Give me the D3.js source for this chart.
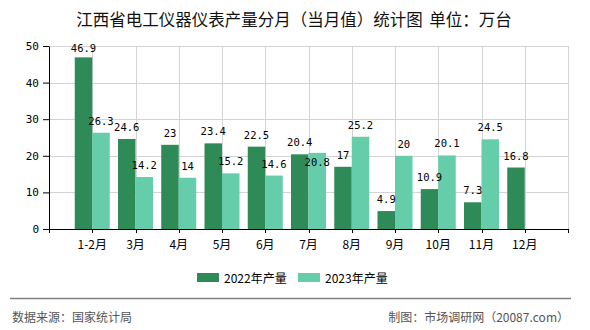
<!DOCTYPE html>
<html>
<head>
<meta charset="utf-8">
<script src="https://cdn.jsdelivr.net/npm/d3@7"></script>
<style>
  body { margin: 0; background: #fff; }
  svg { display: block; }
</style>
</head>
<body>
<svg id="chart" width="590" height="330"></svg>
<script>
// Monthly output of electrical instruments and meters, Jiangxi (10k units)
const categories = ["1-2月", "3月", "4月", "5月", "6月", "7月", "8月", "9月", "10月", "11月", "12月"];
const seriesNames = ["2022年产量", "2023年产量"];
const values2022 = [46.9, 24.6, 23, 23.4, 22.5, 20.4, 17, 4.9, 10.9, 7.3, 16.8];
const values2023 = [26.3, 14.2, 14, 15.2, 14.6, 20.8, 25.2, 20, 20.1, 24.5, null];
const yTicks = [0, 10, 20, 30, 40, 50];
const colors = ["#2e8b57", "#66cdaa"];

const titleText = "江西省电工仪器仪表产量分月（当月值）统计图 单位：万台";
const sourceText = "数据来源：国家统计局";
const creditText = "制图：市场调研网（20087.com）";

const svg = d3.select("#chart");
const W = 590;
const margin = { left: 49, right: 22, top: 46, bottom: 101 };
const plotW = W - margin.left - margin.right;
const plotH = 330 - margin.top - margin.bottom;

const cjk = "'Noto Sans CJK SC', 'Noto Sans', sans-serif";
const mono = "'DejaVu Sans Mono', 'Liberation Mono', monospace";

// Title
svg.append("text")
  .attr("x", 294).attr("y", 19)
  .attr("text-anchor", "middle")
  .attr("dominant-baseline", "central")
  .style("font-family", cjk).style("font-size", "16.5px")
  .style("word-spacing", "3px")
  .attr("fill", "#111")
  .text(titleText);

const g = svg.append("g").attr("transform", `translate(${margin.left},${margin.top})`);

// Category slots: one empty slot at each end of the axis
const step = plotW / (categories.length + 1);
const x = d3.scalePoint().domain(categories).range([step, plotW - step]);
const inner = d3.scaleBand().domain(seriesNames).range([-17.5, 17.5]).paddingInner(0);
const y = d3.scaleLinear().domain([0, 50]).range([plotH, 0]);

// Grid
const grid = g.append("g").attr("stroke", "#d3d3d3").attr("stroke-width", 1);
yTicks.filter(t => t > 0).forEach(t => {
  grid.append("line").attr("x1", 0).attr("x2", plotW)
    .attr("y1", Math.round(y(t)) + 0.5).attr("y2", Math.round(y(t)) + 0.5);
});
const vLines = categories.map(c => x(c)).concat([plotW]);
vLines.forEach(v => {
  grid.append("line").attr("x1", Math.round(v) + 0.5).attr("x2", Math.round(v) + 0.5)
    .attr("y1", 0).attr("y2", plotH);
});

// Bars
const seriesData = [values2022, values2023];
seriesData.forEach((vals, si) => {
  g.append("g").selectAll("rect")
    .data(categories.map((c, i) => ({ c, v: vals[i] })).filter(d => d.v != null))
    .join("rect")
    .attr("x", d => x(d.c) + inner(seriesNames[si]))
    .attr("width", inner.bandwidth())
    .attr("y", d => y(d.v))
    .attr("height", d => plotH - y(d.v))
    .attr("fill", colors[si]);
});

// Value labels, with a simple shift for labels that would collide
const labelFont = 10.5;
const minBaseline = 6;
const labels = [];
categories.forEach((c, i) => {
  const placed = [];
  seriesData.forEach((vals, si) => {
    const v = vals[i];
    if (v == null) return;
    const cx = x(c) + inner(seriesNames[si]) + inner.bandwidth() / 2;
    let by = Math.max(y(v) - 8, minBaseline);
    const txt = String(v);
    const w = txt.length * labelFont * 0.6;
    placed.forEach(p => {
      const overlapX = Math.abs(p.cx - cx) < (p.w + w) / 2;
      const overlapY = Math.abs(p.by - by) < labelFont + 2;
      if (overlapX && overlapY) by = p.by + 20;
    });
    const item = { cx, by, w, txt };
    placed.push(item);
    labels.push(item);
  });
});
g.append("g").selectAll("text").data(labels).join("text")
  .attr("x", d => d.cx).attr("y", d => d.by)
  .attr("text-anchor", "middle")
  .style("font-family", mono).style("font-size", labelFont + "px")
  .attr("fill", "#000")
  .text(d => d.txt);

// Y axis
const yAxis = g.append("g")
  .call(d3.axisLeft(y).tickValues(yTicks).tickSize(6).tickSizeOuter(0).tickPadding(4));
yAxis.select(".domain").attr("stroke", "#000");
yAxis.selectAll(".tick line").attr("stroke", "#000");
yAxis.selectAll(".tick text")
  .style("font-family", mono).style("font-size", "11px").attr("fill", "#000");

// X axis
const xAxis = g.append("g").attr("transform", `translate(0,${plotH})`);
xAxis.append("line").attr("x1", 0).attr("x2", plotW).attr("y1", 0.5).attr("y2", 0.5)
  .attr("stroke", "#000");
vLines.concat([0]).forEach(v => {
  xAxis.append("line").attr("x1", Math.round(v) + 0.5).attr("x2", Math.round(v) + 0.5)
    .attr("y1", 0).attr("y2", 4).attr("stroke", "#000");
});
xAxis.selectAll("text.cat").data(categories).join("text")
  .attr("class", "cat")
  .attr("x", d => x(d)).attr("y", 14)
  .attr("text-anchor", "middle")
  .attr("dominant-baseline", "central")
  .style("font-family", cjk).style("font-size", "12px")
  .attr("fill", "#000")
  .text(d => d);

// Legend
const legendItems = [
  { name: seriesNames[0], color: colors[0], x: 197 },
  { name: seriesNames[1], color: colors[1], x: 298 }
];
const lg = svg.append("g");
legendItems.forEach(it => {
  lg.append("rect").attr("x", it.x).attr("y", 273).attr("width", 22).attr("height", 9)
    .attr("fill", it.color);
  lg.append("text").attr("x", it.x + 27).attr("y", 277.5)
    .attr("dominant-baseline", "central")
    .style("font-family", cjk).style("font-size", "12px")
    .attr("fill", "#000")
    .text(it.name);
});

// Footer
svg.append("line").attr("x1", 10).attr("x2", 571).attr("y1", 298.5).attr("y2", 298.5)
  .attr("stroke", "#808080").attr("stroke-width", 1.5);
svg.append("text").attr("x", 12).attr("y", 316.5)
  .attr("dominant-baseline", "central")
  .style("font-family", cjk).style("font-size", "12px").attr("fill", "#555")
  .text(sourceText);
svg.append("text").attr("x", 569).attr("y", 316.5)
  .attr("text-anchor", "end")
  .attr("dominant-baseline", "central")
  .style("font-family", cjk).style("font-size", "12px").attr("fill", "#555")
  .text(creditText);
</script>
</body>
</html>
